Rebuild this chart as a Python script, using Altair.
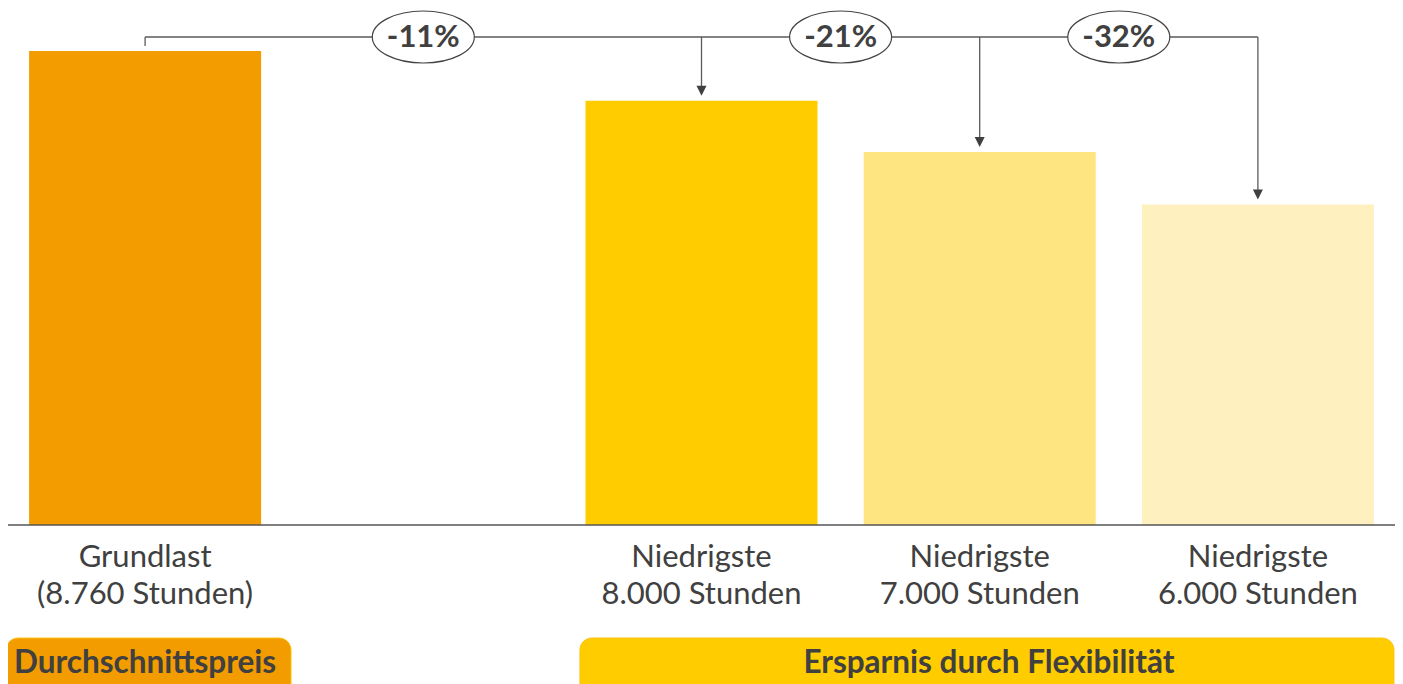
import altair as alt
import pandas as pd

# ---- data ----
categories = ["Grundlast\n(8.760 Stunden)", "Niedrigste\n8.000 Stunden",
              "Niedrigste\n7.000 Stunden", "Niedrigste\n6.000 Stunden"]
values = [100.0, 89.5, 78.7, 67.6]
bar_colors = ["#F39C00", "#FFCC00", "#FFE482", "#FFF0C0"]
changes = ["-11%", "-21%", "-32%"]
groups = ["Durchschnittspreis", "Ersparnis durch Flexibilität"]
group_colors = ["#F39C00", "#FFCC00"]

# ---- layout ----
slots = [0, 2, 3, 4]            # slot 1 is left empty
change_slots = [1, 2.5, 3.5]
group_spans = [(-0.5, 0.5245), (1.563, 4.489)]
group_text_slots = [0.0, (1.563 + 4.5036) / 2]
HALF = 0.417
PX = 100.0 / 474.0              # value units per pixel
FONT = "Lato"
TEXT = "#404040"
LINE = "#5a5a5a"

W, H = 1387, 676
xs = alt.Scale(domain=[-0.5, 4.5], range=[-2, 1389], nice=False, zero=False)
ys = alt.Scale(domain=[0, 100], range=[517, 43], nice=False, zero=False)


def X(f):
    return alt.X(f, type="quantitative", scale=xs, axis=None)


def Y(f):
    return alt.Y(f, type="quantitative", scale=ys, axis=None)


bars_df = pd.DataFrame({
    "slot": slots,
    "x0": [s - HALF for s in slots],
    "x1": [s + HALF for s in slots],
    "value": values,
    "base": [0.0] * 4,
    "cat": categories,
})

bars = alt.Chart(bars_df).mark_rect().encode(
    x=X("x0"), x2="x1", y=Y("value"), y2="base",
    color=alt.Color("cat:N", scale=alt.Scale(domain=categories, range=bar_colors), legend=None),
)

base_df = pd.DataFrame({"a": [-0.5], "b": [4.5], "y": [0.0]})
baseline = alt.Chart(base_df).mark_rule(color="#555555", strokeWidth=1.6).encode(
    x=X("a"), x2="b", y=Y("y"))

level = values[0] + 14 * PX
segs = [(slots[0], slots[-1], level, level),
        (slots[0], slots[0], level, values[0] + 5 * PX)]
for s, v in zip(slots[1:], values[1:]):
    segs.append((s, s, level, v + 10 * PX))
seg_df = pd.DataFrame(segs, columns=["xa", "xb", "ya", "yb"])
connectors = alt.Chart(seg_df).mark_rule(color=LINE, strokeWidth=1.3).encode(
    x=X("xa"), x2="xb", y=Y("ya"), y2="yb")

arrow_df = pd.DataFrame({"slot": slots[1:], "y": [v + 10 * PX for v in values[1:]]})
arrows = alt.Chart(arrow_df).mark_point(
    shape="M-1,-1L1,-1L0,1Z", size=100, filled=True, opacity=1, color="#404040"
).encode(x=X("slot"), y=Y("y"))

ell_df = pd.DataFrame({"slot": change_slots, "y": [level] * 3, "label": changes})
k = 0.5523
ry = 0.51
ell_path = (f"M-1,0C-1,{-ry*k},{-k},{-ry},0,{-ry}C{k},{-ry},1,{-ry*k},1,0"
            f"C1,{ry*k},{k},{ry},0,{ry}C{-k},{ry},-1,{ry*k},-1,0Z")
ellipses = alt.Chart(ell_df).mark_point(
    shape=ell_path, size=102 * 102, filled=True, fill="white", fillOpacity=1,
    stroke="#444444", strokeWidth=1.2, opacity=1
).encode(x=X("slot"), y=Y("y"))
ell_text = alt.Chart(ell_df).mark_text(
    font=FONT, fontSize=31, fontWeight="bold", color=TEXT, baseline="middle", dy=1
).encode(x=X("slot"), y=Y("y"), text="label:N")

lab_df = pd.DataFrame({"slot": slots, "y": [0.0] * 4, "cat": categories})
cat_text = alt.Chart(lab_df).mark_text(
    font=FONT, fontSize=31, color=TEXT, align="center", baseline="alphabetic",
    lineBreak="\n", lineHeight=37, dy=42
).encode(x=X("slot"), y=Y("y"), text="cat:N")

grp_df = pd.DataFrame({
    "g": groups,
    "xa": [a for a, b in group_spans],
    "xb": [b for a, b in group_spans],
    "xc": group_text_slots,
    "ya": [-113 * PX] * 2,
    "yb": [-200 * PX] * 2,
    "yt": [0.0] * 2,
})
grp_boxes = alt.Chart(grp_df).mark_rect(cornerRadius=12, stroke="#FFC20E", strokeWidth=1).encode(
    x=X("xa"), x2="xb", y=Y("ya"), y2="yb",
    color=alt.Color("g:N", scale=alt.Scale(domain=groups, range=group_colors), legend=None),
)
grp_text = alt.Chart(grp_df).mark_text(
    font=FONT, fontSize=31.5, fontWeight="bold", color=TEXT, align="center",
    baseline="alphabetic", dy=148
).encode(x=X("xc"), y=Y("yt"), text="g:N")

chart = alt.layer(
    bars, baseline, connectors, arrows, ellipses, ell_text, cat_text, grp_boxes, grp_text
).resolve_scale(color="independent").properties(
    width=W, height=H, autosize=alt.AutoSizeParams(type="none"), padding=0,
    background="white"
).configure_view(stroke=None)

chart.save("out.html", embed_options={"renderer": "svg", "actions": False})
